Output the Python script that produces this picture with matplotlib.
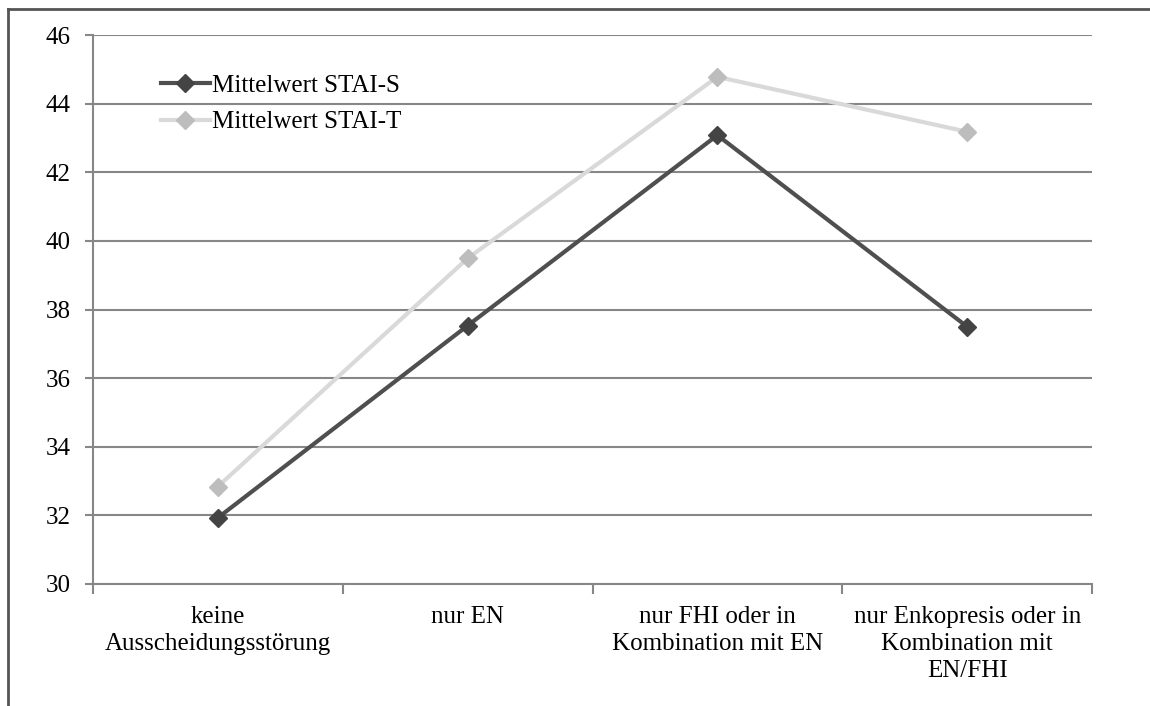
import matplotlib
matplotlib.use("Agg")
import matplotlib.pyplot as plt
from matplotlib.lines import Line2D
import numpy as np

categories = [
    "keine\nAusscheidungsstörung",
    "nur EN",
    "nur FHI oder in\nKombination mit EN",
    "nur Enkopresis oder in\nKombination mit\nEN/FHI",
]
stai_s = [31.93, 37.53, 43.08, 37.50]
stai_t = [32.84, 39.49, 44.78, 43.18]
series_labels = ["Mittelwert STAI-S", "Mittelwert STAI-T"]
yticks = [30, 32, 34, 36, 38, 40, 42, 44, 46]

plt.rcParams["font.family"] = ["Liberation Serif", "DejaVu Serif"]

W, H = 1150, 706
FS = 18
fig = plt.figure(figsize=(W / 100, H / 100), dpi=100)
ax = fig.add_axes([93 / W, 1 - 584 / H, (1092 - 93) / W, (584 - 35) / H])

x = np.arange(len(categories))
grid_c = "#878787"

ax.plot(x, stai_s, color="#4f4f4f", lw=3.0, marker="D", ms=9.5,
        mfc="#444444", mec="#444444", label=series_labels[0], zorder=4)
ax.plot(x, stai_t, color="#d9d9d9", lw=3.0, marker="D", ms=9.5,
        mfc="#bdbdbd", mec="#bdbdbd", label=series_labels[1], zorder=3)

ax.set_xlim(-0.5, len(categories) - 0.5)
ax.set_ylim(30, 46)
ax.set_yticks(yticks)
ax.set_yticklabels([str(v) for v in yticks], fontsize=FS)
ax.yaxis.grid(True, color=grid_c, lw=1.5)
ax.set_axisbelow(True)

ax.set_xticks(x)
ax.set_xticklabels(categories, fontsize=FS, linespacing=1.28)
ax.tick_params(axis="x", length=0, pad=16)
ax.tick_params(axis="y", length=6, width=1.5, color=grid_c, pad=10)

# category boundary tick marks on the x axis
ax.set_xticks(np.arange(-0.5, len(categories)), minor=True)
ax.tick_params(axis="x", which="minor", length=7, width=1.5, color=grid_c)

for side in ["top", "right"]:
    ax.spines[side].set_visible(False)
for side in ["left", "bottom"]:
    ax.spines[side].set_color(grid_c)
    ax.spines[side].set_linewidth(1.5)

leg = ax.legend(loc="upper left", bbox_to_anchor=(161 / W, 1 - 74 / H),
                bbox_transform=fig.transFigure, frameon=False, fontsize=FS,
                handlelength=1.95, handletextpad=0.1, labelspacing=0.58,
                borderpad=0, borderaxespad=0)

# outer frame
fig.add_artist(Line2D([7.5 / W, 1.0], [1 - 9 / H, 1 - 9 / H],
                      transform=fig.transFigure, color="#555555", lw=2))
fig.add_artist(Line2D([7.5 / W, 7.5 / W], [0, 1 - 9 / H],
                      transform=fig.transFigure, color="#555555", lw=2))

fig.savefig("out.png", dpi=100, facecolor="white")
